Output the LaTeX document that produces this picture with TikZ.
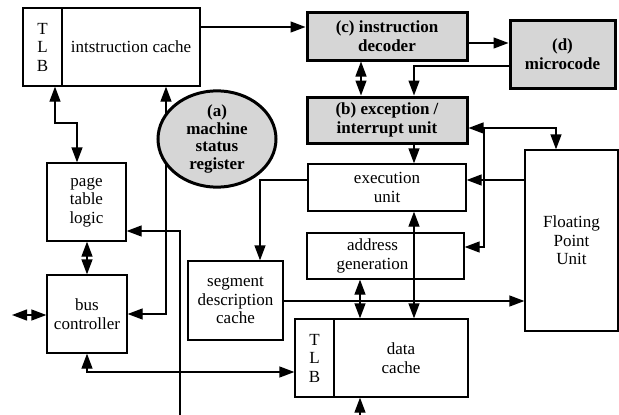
\documentclass[tikz,border=0pt]{standalone}
\usepackage{fontspec}
\setmainfont{Liberation Serif}
\usetikzlibrary{arrows.meta,shapes.geometric}
\definecolor{boxgray}{RGB}{214,214,214}
\begin{document}
\begin{tikzpicture}[x=1pt,y=-1pt,
  every node/.style={font=\fontsize{17}{18.5}\selectfont},
  box/.style={draw,line width=1.3pt,rectangle,inner sep=0pt,align=center},
  gbox/.style={draw,line width=3pt,rectangle,inner sep=0pt,align=center,fill=boxgray,font=\fontsize{17}{18.5}\selectfont\bfseries},
  con/.style={line width=1.3pt,-{Triangle[length=15pt,width=11pt]}},
  dcon/.style={line width=1.3pt,{Triangle[length=15pt,width=11pt]}-{Triangle[length=15pt,width=11pt]}},
  plain/.style={line width=1.3pt}]
\useasboundingbox (0,0) rectangle (619,415);
% nodes
\node[box,minimum width=39pt,minimum height=78pt] (tlbI) at (42.5,47) {T\\L\\B};
\node[box,minimum width=138pt,minimum height=78pt] (ic) at (131,47) {intstruction cache};
\node[gbox,minimum width=160pt,minimum height=48pt] (dec) at (387,36) {(c) instruction\\decoder};
\node[gbox,minimum width=105pt,minimum height=68pt] (micro) at (562.5,54) {(d)\\microcode};
\node[gbox,minimum width=160pt,minimum height=46pt] (exc) at (387,120) {(b) exception /\\interrupt unit};
\node[box,minimum width=158pt,minimum height=47pt] (exe) at (387,187.5) {execution\\unit};
\node[box,minimum width=157pt,minimum height=46pt,
  label={[align=center,xshift=-13pt,inner sep=0pt]center:address\\generation}] (addr) at (385.5,256) {};
\node[box,minimum width=93pt,minimum height=181pt] (fpu) at (571.5,240.5) {Floating\\Point\\Unit};
\node[box,minimum width=95pt,minimum height=79pt] (seg) at (235.5,300.5) {segment\\description\\cache};
\node[box,minimum width=39pt,minimum height=78pt] (tlbD) at (314.5,358) {T\\L\\B};
\node[box,minimum width=134pt,minimum height=78pt] (dc) at (401,358) {data\\cache};
\node[box,minimum width=79pt,minimum height=78pt] (ptl) at (86.5,202) {page\\table\\logic};
\node[box,minimum width=80pt,minimum height=78pt] (bus) at (87,314) {bus\\controller};
% coordinates
\coordinate (j) at (484,128);
\coordinate (bl) at (12,315);
\coordinate (bot1) at (360,415);
\coordinate (bot2) at (180,415);
% connectors (drawn before the ellipse)
\draw[dcon] (ic.south -| 166,0) |- (bus.east |- 0,314);
\node[gbox,ellipse,minimum width=118pt,minimum height=85pt,font=\fontsize{17}{17.5}\selectfont\bfseries] (msr) at (217,139) {(a)\\machine\\status\\register};
\draw[con] (ic.east |- 0,27) -- (dec.west |- 0,27);
\draw[con] (dec.east |- 0,43) -- (micro.west |- 0,43);
\draw[con] (micro.west |- 0,66) -| (exc.north -| 414,0);
\draw[dcon] (dec.south -| 361,0) -- (exc.north -| 361,0);
\draw[con] (exc.south -| 414,0) -- (exe.north -| 414,0);
\draw[con] (j) -- (exc.east |- j);
\draw[con] (j) -| (fpu.north -| 556,0);
\draw[con] (j) |- (addr.east |- 0,247);
\draw[con] (fpu.west |- 0,180) -- (exe.east |- 0,180);
\draw[con] (exe.west |- 0,180) -| (seg.north -| 260,0);
\draw[con] (seg.east |- 0,301) -- (fpu.west |- 0,301);
\draw[dcon] (addr.south -| 360,0) -- (dc.north -| 360,0);
\draw[dcon] (exe.south -| 414,0) -- (dc.north -| 414,0);
\draw[con] (bot1) -- (dc.south -| bot1);
\draw[dcon] (tlbI.south -| 55,0) -- (55,123) -| (ptl.north -| 77,0);
\draw[dcon] (ptl.south -| 87,0) -- (bus.north -| 87,0);
\draw[dcon] (bl) -- (bus.west |- bl);
\draw[dcon] (bus.south -| 87,0) |- (tlbD.west |- 0,372);
\draw[con] (bot2) |- (ptl.east |- 0,231);
\end{tikzpicture}
\end{document}
